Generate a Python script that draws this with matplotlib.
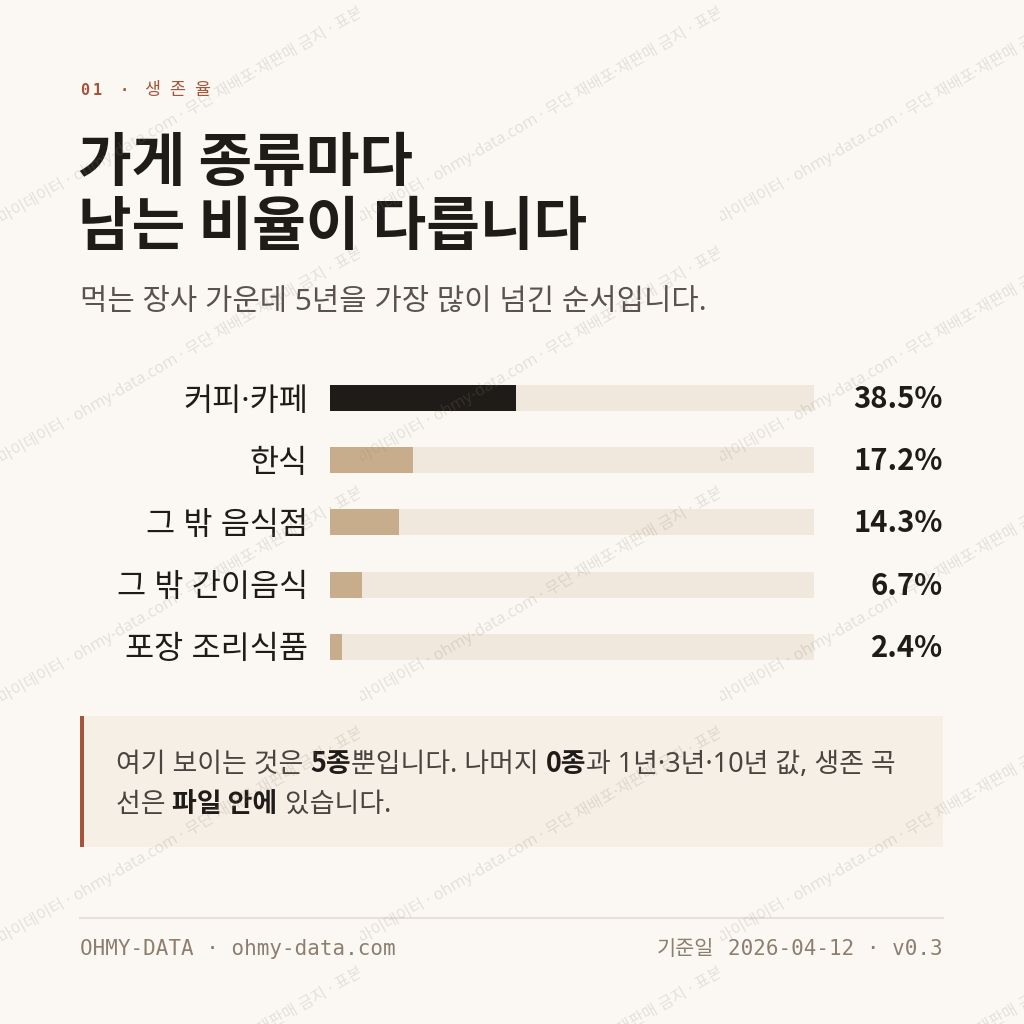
import matplotlib
matplotlib.use("Agg")
import matplotlib.pyplot as plt
from matplotlib.patches import Rectangle, PathPatch
from matplotlib.textpath import TextPath
from matplotlib.font_manager import FontProperties
from matplotlib.transforms import Affine2D

W = H = 1024
DPI = 100

# ---------- colours ----------
BG = "#FBF8F3"
INK = "#1F1B18"
SUB = "#5A534D"
RUST = "#A4543B"
TRACK = "#F0E8DC"
TAN = "#C8AD8C"
BOX = "#F6EFE6"
FOOT = "#8C7F70"
RULE = "#E8E2D6"

# latin + middle dot from Noto Sans, hangul falls through to the CJK face
KR = ["Noto Sans", "Noto Sans CJK KR"]
KR_BOLD = ["Noto Sans CJK KR"]  # no bold Noto Sans installed
MONO = ["DejaVu Sans Mono", "Noto Sans CJK KR"]

# ---------- data ----------
categories = ["커피·카페", "한식", "그 밖 음식점", "그 밖 간이음식", "포장 조리식품"]
survival_5y = [38.5, 17.2, 14.3, 6.7, 2.4]
highlight = [True, False, False, False, False]

eyebrow_num = "01 ·"
eyebrow_word = "생존율"
title_lines = ["가게 종류마다", "남는 비율이 다릅니다"]
subtitle = "먹는 장사 가운데 5년을 가장 많이 넘긴 순서입니다."
note_line1 = [("여기 보이는 것은 ", False), ("5종", True), ("뿐입니다. 나머지 ", False),
              ("0종", True), ("과 1년·3년·10년 값, 생존 곡", False)]
note_line2 = [("선은 ", False), ("파일 안에", True), (" 있습니다.", False)]
footer_left = "OHMY-DATA · ohmy-data.com"
footer_date_label = "기준일"
footer_right = "2026-04-12 · v0.3"
watermark = "마이데이터 · ohmy-data.com · 무단 재배포·재판매 금지 · 표본 자료"

fig = plt.figure(figsize=(W / DPI, H / DPI), dpi=DPI, facecolor=BG)
renderer = fig.canvas.get_renderer()


def fx(x):
    return x / W


def fy(y):
    return 1 - y / H


def spaced(x, y, s, gap, **kw):
    # emulate css letter-spacing
    for ch in s:
        t = fig.text(fx(x), fy(y), ch, ha="left", va="baseline", **kw)
        x += t.get_window_extent(renderer).width + gap
    return x


def runs(x, y, parts, size, **kw):
    for s, bold in parts:
        t = fig.text(fx(x), fy(y), s, ha="left", va="baseline", fontsize=size,
                     family=KR_BOLD if bold else KR, weight="bold" if bold else "normal",
                     color=INK if bold else "#4A4440", **kw)
        x += t.get_window_extent(renderer).width
    return x


# ---------- header ----------
x = spaced(80, 95, eyebrow_num, 4, fontsize=11, family=MONO, weight="bold", color=RUST)
spaced(x + 12, 95, eyebrow_word, 9, fontsize=12.5, family=KR, color=RUST)

fig.text(fx(78), fy(181), title_lines[0], fontsize=42, weight="bold", family=KR_BOLD,
         color=INK, va="baseline")
fig.text(fx(78), fy(245), title_lines[1], fontsize=42, weight="bold", family=KR_BOLD,
         color=INK, va="baseline")
fig.text(fx(80), fy(311), subtitle, fontsize=21.4, family=KR, color=SUB, va="baseline")

# ---------- bars ----------
ax = fig.add_axes([fx(330), fy(678), 484 / W, 311 / H])
ax.set_facecolor("none")
rows = list(range(len(categories)))
bar_h = 26 / 62.2
ax.barh(rows, [100] * len(rows), height=bar_h, color=TRACK, zorder=1)
ax.barh(rows, survival_5y, height=bar_h,
        color=[INK if h else TAN for h in highlight], zorder=2)
ax.set_xlim(0, 100)
ax.set_ylim(len(rows) - 0.5, -0.5)
ax.set_xticks([])
ax.set_yticks(rows, categories, fontsize=22.8, family=KR, color=INK)
ax.tick_params(axis="y", length=0, pad=16)
for sp in ax.spines.values():
    sp.set_visible(False)
for i, v in enumerate(survival_5y):
    ax.annotate(f"{v:.1f}%", xy=((943 - 330) / 484, i), xycoords=ax.get_yaxis_transform(),
                xytext=(0, -1), textcoords="offset pixels",
                ha="right", va="center", fontsize=21, weight="bold", family=KR_BOLD,
                color=INK)

# ---------- note box ----------
fig.patches.append(Rectangle((fx(80), fy(847)), 863 / W, 131 / H,
                             transform=fig.transFigure, facecolor=BOX, edgecolor="none"))
fig.patches.append(Rectangle((fx(80), fy(847)), 4 / W, 131 / H,
                             transform=fig.transFigure, facecolor=RUST, edgecolor="none"))
runs(116, 772, note_line1, 19.4)
runs(116, 812, note_line2, 19.4)

# ---------- footer ----------
fig.add_artist(plt.Line2D([fx(80), fx(943)], [fy(917.5), fy(917.5)],
                          color=RULE, linewidth=1.5))
fig.text(fx(80), fy(955), footer_left, fontsize=15, family=MONO, color=FOOT,
         va="baseline")
t = fig.text(fx(943), fy(955), footer_right, fontsize=15, family=MONO, color=FOOT,
             va="baseline", ha="right")
rw = t.get_window_extent(renderer).width
fig.text(fx(943 - rw - 14), fy(955), footer_date_label, fontsize=15, family=KR,
         color=FOOT, va="baseline", ha="right")

# ---------- watermark tiles ----------
# agg does not clip rotated text, so the watermark is drawn as glyph outlines
wm = fig.add_axes([0, 0, 1, 1], zorder=10)
wm.set_xlim(0, W)
wm.set_ylim(0, H)
wm.axis("off")
wm.patch.set_alpha(0)
wm_path = TextPath((0, 0), watermark, size=11.5 / 72 * DPI, prop=FontProperties(family=KR))
for ty in range(0, H, 240):
    for tx in range(0, W, 360):
        tr = Affine2D().rotate_deg(30).translate(tx + 2, H - ty - 224) + wm.transData
        pp = PathPatch(wm_path, transform=tr, facecolor="#8A8075", edgecolor="none",
                       alpha=0.2)
        wm.add_patch(pp)
        pp.set_clip_path(Rectangle((tx, H - ty - 240), 360, 240, transform=wm.transData))

fig.savefig("out.png", dpi=DPI, facecolor=BG)
